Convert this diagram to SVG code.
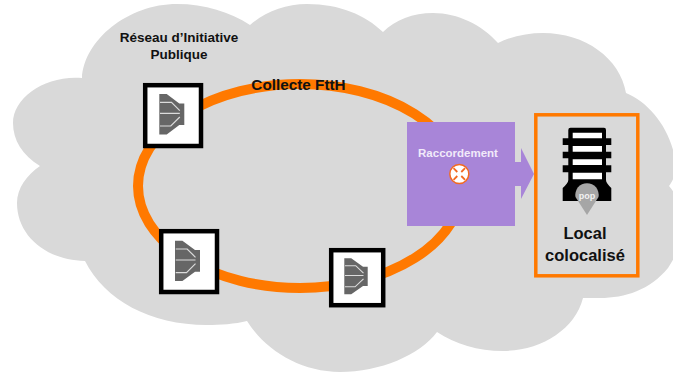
<svg xmlns="http://www.w3.org/2000/svg" width="673" height="372" viewBox="0 0 673 372">
<style>
text{font-family:"Liberation Sans",Arial,sans-serif;font-weight:bold;text-anchor:middle;fill:#111}
.box{fill:#fff;stroke:#000;stroke-width:4.5}
.wl{fill:none;stroke:#dcdcdc;stroke-width:1.2}
</style>
<defs>
<symbol id="splitter" viewBox="0 0 25 40.4" overflow="visible" preserveAspectRatio="none">
<path d="M0 0H7.4L20 9.4H25V31H20L7.4 40.4H0Z" fill="#666"/>
<path class="wl" d="M.7 8.3H12.2L20.5 16.6M.7 19.3H20.5M.7 32H11.5L20.5 23"/>
</symbol>
</defs>
<path id="cloud" fill="#d9d9d9" d="M82 78C84 40 128 4 177 4C205 4 230 12 250 25C265 12 285 4 307 4C340 4 365 15 383 32C395 20 413 13 433 13C458 13 482 25 498 43C512 36 528 33 543 33C585 33 620 58 626 93C650 103 672 130 676 165C676 175 672 182 669 186C685 205 690 235 668 268C650 290 625 298 600 298C595 298 589 298 583 298C575 330 540 351 503 351C478 351 455 344 437 332C420 355 380 372 340 372C300 372 265 350 247 321C235 324 220 325 207 325C150 325 105 300 85 261C45 260 17 235 17 203C17 188 27 175 40 166C22 155 13 140 13 123C13 98 45 75 82 78Z"/>
<g id="connectors">
<ellipse cx="300" cy="186" rx="162" ry="102" fill="none" stroke="#ff7900" stroke-width="10"/>
</g>
<g id="label-rip">
<text x="179" y="42" font-size="13.500">Réseau d’Initiative</text>
<text x="179" y="59" font-size="13.500">Publique</text>
</g>
<text id="label-collecte" x="298.500" y="90" font-size="15.300">Collecte FttH</text>
<g id="node-splitter-1">
<rect class="box" x="145.200" y="85.200" width="55.800" height="60.800"/>
<use href="#splitter" x="159.300" y="94" width="25" height="40.400"/>
</g>
<g id="node-splitter-2">
<rect class="box" x="161.200" y="231.200" width="55.800" height="60.800"/>
<use href="#splitter" x="175" y="240.700" width="25" height="40.400"/>
</g>
<g id="node-splitter-3">
<rect class="box" x="331.200" y="250.200" width="52" height="55"/>
<use href="#splitter" x="344.300" y="258.300" width="23.400" height="36"/>
</g>
<g id="node-raccordement">
<path fill="#a885d8" d="M407 122H515V162H521V148L534 174L521 199V186H515V226H407Z"/>
<text x="458" y="157" font-size="11.500" style="fill:#f1eafa">Raccordement</text>
<circle cx="459.300" cy="174" r="9.500" fill="#fff" stroke="#f26a21" stroke-width="1.500"/>
<path d="M453.500 168.200L457.300 172M465.100 168.200L461.300 172M453.500 179.800L457.300 176M465.100 179.800L461.300 176" stroke="#f26a21" stroke-width="1.800" fill="none"/>
</g>
<g id="node-local">
<rect x="535.800" y="114.800" width="102" height="161" fill="none" stroke="#ff7900" stroke-width="3.500"/>
<path d="M568.300 130Q568.300 127.700 570.500 127.700H604Q606 127.700 606 130V138.300H611.300V145H606V151.700H611.300V158.300H606V165.300H611.300V172.300H606V180Q606 183 611.300 188V201H562.700V188Q568.300 183 568.300 180V172.300H562.700V165.300H568.300V158.300H562.700V151.700H568.300V145H562.700V138.300H568.300Z" fill="#000"/>
<path d="M572.700 132.700H602V138.300H572.700ZM572.700 146H602V151.700H572.700ZM572.700 159.300H602V165H572.700ZM572.700 172.700H602V179.300H572.700Z" fill="#fff"/>
<path d="M575.500 197A11.700 11.700 0 1 1 598.500 197L587 215Z" fill="#a6a6a6"/>
<text x="587" y="199" font-size="9" style="fill:#f2f2f2">pop</text>
<text x="585" y="239" font-size="16.500">Local</text>
<text x="585" y="261" font-size="16.500">colocalisé</text>
</g>
</svg>
